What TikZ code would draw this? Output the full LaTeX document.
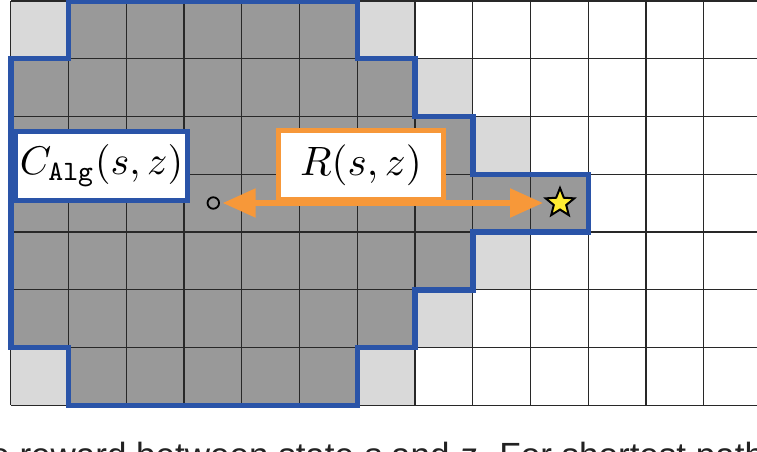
\documentclass[tikz,border=0pt]{standalone}
\usepackage{graphicx}
\usepackage{fontspec}
\newfontfamily\capfont{Liberation Sans}
\usetikzlibrary{arrows.meta,shapes.geometric}
\definecolor{cellgray}{RGB}{153,153,153}
\definecolor{celllight}{RGB}{217,217,217}
\definecolor{regionblue}{RGB}{42,84,168}
\definecolor{rewardorange}{RGB}{247,152,57}
\definecolor{staryellow}{RGB}{255,236,51}
\definecolor{gridline}{RGB}{40,40,40}
\definecolor{captext}{RGB}{34,34,34}
\begin{document}
\begin{tikzpicture}[x=1pt,y=-1pt,
  gridstyle/.style={draw=gridline, line width=1.3pt},
  lightcell/.style={fill=celllight},
  regionline/.style={draw=regionblue, line width=5.5pt, line join=miter},
  labelbox/.style={draw, line width=5.5pt, fill=white, minimum height=69pt, inner sep=0pt},
  tipstyle/.tip={Triangle[length=33pt,width=28pt]}]
\useasboundingbox (0,0) rectangle (757,452);
\clip (0,0) rectangle (757,452);
\fill[white] (0,0) rectangle (757,452);
\begin{scope}[shift={(10.75pt,-1pt)}, x=57.75pt, y=-57.75pt]
  % reachable region
  \fill[cellgray] (1,0) -- (6,0) -- (6,1) -- (7,1) -- (7,2) -- (8,2) -- (8,3) -- (10,3) -- (10,4) -- (8,4) -- (8,5) -- (7,5) -- (7,6) -- (6,6) -- (6,7) -- (1,7) -- (1,6) -- (0,6) -- (0,1) -- (1,1) -- cycle;
  % light frontier cells
  \foreach \c/\r in {0/0,6/0,7/1,8/2,8/4,7/5,6/6,0/6}
    \fill[lightcell] (\c,\r) rectangle ++(1,1);
  % grid
  \foreach \i in {0,...,13} \draw[gridstyle] (\i,0) -- (\i,7);
  \foreach \j in {0,...,7} \draw[gridstyle] (0,\j) -- (13,\j);
  % blue outline
  \draw[regionline] (1,0) -- (6,0) -- (6,1) -- (7,1) -- (7,2) -- (8,2) -- (8,3) -- (10,3) -- (10,4) -- (8,4) -- (8,5) -- (7,5) -- (7,6) -- (6,6) -- (6,7) -- (1,7) -- (1,6) -- (0,6) -- (0,1) -- (1,1) -- cycle;
\end{scope}
\node[labelbox, draw=regionblue, minimum width=172pt] (calg) at (101.5,166) {\scalebox{4}{$C_{\mathtt{Alg}}(s,z)$}};
\node[labelbox, draw=rewardorange, minimum width=165pt] (rlabel) at (361,165) {\scalebox{4.1}{$R(s,z)$}};
\node[circle, draw=black, line width=1.8pt, minimum size=11.5pt, inner sep=0pt] (src) at (213.3,203) {};
\node[star, star points=5, star point ratio=2.3, draw=black, line width=2pt, fill=staryellow, minimum size=30pt, inner sep=0pt] (goal) at (560,203) {};
\draw[rewardorange, line width=5.5pt, tipstyle-tipstyle, shorten <=9.4pt, shorten >=17pt] (src.center) -- (goal.center);
\node[anchor=base west, inner sep=0pt, text=captext, font=\capfont\fontsize{35}{42}\selectfont] (caption) at (-39,467) {the reward between state \textit{s} and \textit{z}. For shortest path};
\end{tikzpicture}
\end{document}
